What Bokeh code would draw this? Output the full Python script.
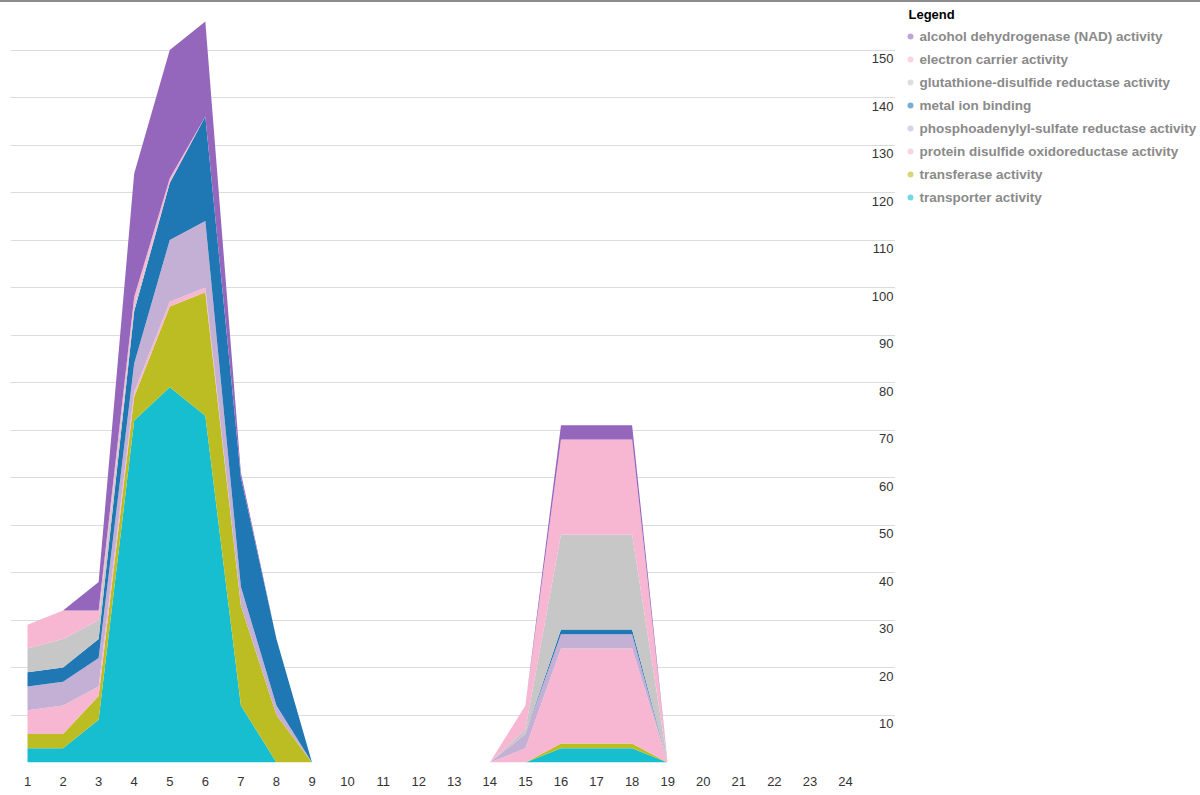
from bokeh.plotting import figure
from bokeh.layouts import row
from bokeh.models import ColumnDataSource, FixedTicker, Grid, Range1d
from bokeh.core.properties import value
from bokeh.embed import file_html
from bokeh.resources import INLINE

# ---- data -------------------------------------------------------------
x_values = list(range(1, 25))

series_names = [
    "transporter activity",
    "transferase activity",
    "protein disulfide oxidoreductase activity",
    "phosphoadenylyl-sulfate reductase activity",
    "metal ion binding",
    "glutathione-disulfide reductase activity",
    "electron carrier activity",
    "alcohol dehydrogenase (NAD) activity",
]

transporter = [3, 3, 9, 72, 79, 73, 12, 0, 0, 0, 0, 0, 0, 0, 0, 3, 3, 3, 0, 0, 0, 0, 0, 0]
transferase = [3, 3, 5, 5, 17, 26, 21, 10, 0, 0, 0, 0, 0, 0, 0, 1, 1, 1, 0, 0, 0, 0, 0, 0]
protein_disulfide = [5, 6, 2, 1, 1, 1, 0, 0, 0, 0, 0, 0, 0, 0, 3, 20, 20, 20, 0, 0, 0, 0, 0, 0]
phosphoadenylyl = [5, 5, 6, 6, 13, 14, 4, 2, 0, 0, 0, 0, 0, 0, 3, 3, 3, 3, 0, 0, 0, 0, 0, 0]
metal_ion = [3, 3, 4, 11, 12, 22, 23, 14, 0, 0, 0, 0, 0, 0, 0, 1, 1, 1, 0, 0, 0, 0, 0, 0]
glutathione = [5, 6, 4, 1, 0, 0, 0, 0, 0, 0, 0, 0, 0, 0, 1, 20, 20, 20, 0, 0, 0, 0, 0, 0]
electron_carrier = [5, 6, 2, 2, 1, 0, 0, 0, 0, 0, 0, 0, 0, 0, 5, 20, 20, 20, 0, 0, 0, 0, 0, 0]
alcohol_dh = [0, 0, 6, 26, 27, 20, 1, 0, 0, 0, 0, 0, 0, 0, 0, 3, 3, 3, 0, 0, 0, 0, 0, 0]

y_ticks = [10, 20, 30, 40, 50, 60, 70, 80, 90, 100, 110, 120, 130, 140, 150]

colors = ["#17becf", "#bcbd22", "#f7b6d2", "#c5b0d5", "#1f77b4", "#c7c7c7", "#f7b6d2", "#9467bd"]

# ---- source -----------------------------------------------------------
keys = ["s%d" % i for i in range(len(series_names))]
all_series = [transporter, transferase, protein_disulfide, phosphoadenylyl,
              metal_ion, glutathione, electron_carrier, alcohol_dh]
data = {"x": x_values}
for k, s in zip(keys, all_series):
    data[k] = s
source = ColumnDataSource(data)

FONT = "Liberation Sans"
BORDER = {"border-top": "2px solid #8c8c8c"}
px_per_unit = 35.565
x_start = 1 - 17 / px_per_unit
x_end = 1 + 868 / px_per_unit

p = figure(width=895, height=793, output_backend="svg", toolbar_location=None,
           x_range=Range1d(x_start, x_end), y_range=Range1d(0, 160),
           y_axis_location=None, min_border_left=10, min_border_right=0,
           min_border_top=0, min_border_bottom=33, styles=BORDER)
p.outline_line_color = None
p.background_fill_color = "white"
p.xgrid.visible = False

grid = Grid(dimension=1, ticker=FixedTicker(ticks=[0] + y_ticks),
            grid_line_color="#dcdcdc", grid_line_width=1)
p.add_layout(grid)

p.varea_stack(stackers=keys, x="x", color=colors, source=source)

# x axis
p.xaxis.ticker = FixedTicker(ticks=x_values)
p.xaxis.axis_line_color = None
p.xaxis.major_tick_line_color = None
p.xaxis.minor_tick_line_color = None
p.xaxis.major_label_text_font = FONT
p.xaxis.major_label_text_font_size = "13px"
p.xaxis.major_label_text_color = "#333333"
p.xaxis.major_label_standoff = 8

# y labels inside the plot, right aligned under each gridline
p.text(x=[x_end] * len(y_ticks), y=y_ticks, text=[str(t) for t in y_ticks],
       text_align="right", text_baseline="top", x_offset=-2, y_offset=4,
       text_font=value(FONT), text_font_size="13px", text_color="#333333")

# ---- legend panel (separate figure in pixel coordinates) --------------
# frame of this figure is aligned with the main frame (760 px tall)
lg = figure(width=305, height=793, output_backend="svg", toolbar_location=None,
            x_range=Range1d(0, 305), y_range=Range1d(760, 0),
            x_axis_location=None, y_axis_location=None,
            min_border_left=0, min_border_right=0, min_border_top=0,
            min_border_bottom=33, styles=BORDER)
lg.outline_line_color = None
lg.grid.visible = False

legend_order = list(range(len(series_names)))[::-1]
leg_labels = [series_names[i] for i in legend_order]
leg_colors = [colors[i] for i in legend_order]
row_y = [34 + 23 * k for k in range(len(leg_labels))]

lg.text(x=[13], y=[12], text=["Legend"], text_baseline="middle",
        text_font=value(FONT), text_font_size="13px", text_font_style="bold",
        text_color="#000000")
lg.scatter(x=[15] * len(leg_labels), y=row_y, size=6, color=leg_colors,
           alpha=0.6, line_color=None)
lg.text(x=[24] * len(leg_labels), y=row_y, text=leg_labels,
        text_baseline="middle", text_font=value(FONT), text_font_size="13.5px",
        text_font_style="bold", text_color="#8a8a8a")

layout = row(p, lg)
open("out.html", "w").write(file_html(layout, INLINE))
